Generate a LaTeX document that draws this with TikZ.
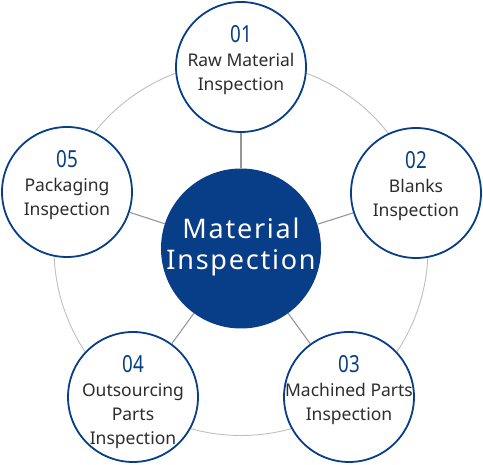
\documentclass[tikz,border=0pt]{standalone}
\usepackage{fontspec}
\setmainfont{Noto Sans}
\newfontfamily\numfont[FakeStretch=0.8]{Noto Sans}
\newfontfamily\hubfont[LetterSpace=6.5]{Noto Sans}
\definecolor{navy}{RGB}{8,62,135}
\definecolor{txtgray}{RGB}{45,45,45}
\definecolor{ringgray}{RGB}{190,190,190}
\definecolor{spokegray}{RGB}{150,150,150}
\newcommand{\numtxt}[1]{{\numfont\fontsize{23.5}{24}\selectfont\color{navy}#1}}
\begin{document}
\begin{tikzpicture}[x=1pt,y=-1pt,
  ring/.style={draw=ringgray, line width=0.9pt},
  spoke/.style={draw=spokegray, line width=1.1pt},
  hub/.style={circle, fill=navy, draw=none, minimum size=160pt, inner sep=0pt},
  outer/.style={circle, fill=white, draw=navy, line width=1.8pt, minimum size=130pt, inner sep=0pt},
  lbl/.style={anchor=base, inner sep=0pt, text=txtgray, font=\fontsize{17.5}{24}\selectfont},
  hubtxt/.style={anchor=base, inner sep=0pt, text=white, font=\hubfont\fontsize{27}{31}\selectfont}
]
\useasboundingbox (0,0) rectangle (483,465);
\coordinate (o) at (241,248.5);
\coordinate (p1) at (241,67);
\coordinate (p2) at (416,193);
\coordinate (p3) at (349,397);
\coordinate (p4) at (133,397);
\coordinate (p5) at (67,192);
\draw[ring] (o) circle[radius=187];
\node[hub] (c) at (o) {};
\node[outer] (n1) at (p1) {};
\node[outer] (n2) at (p2) {};
\node[outer] (n3) at (p3) {};
\node[outer] (n4) at (p4) {};
\node[outer] (n5) at (p5) {};
\foreach \i in {1,...,5} { \draw[spoke] (c) -- (n\i); }
\node[hubtxt] (ct) at ([yshift=9.5pt]o) {\begin{tabular}[t]{@{}c@{}}Material\\Inspection\end{tabular}};
\node[lbl] (t1) at ([yshift=24pt]p1) {\begin{tabular}[t]{@{}c@{}}\numtxt{01}\\Raw Material\\Inspection\end{tabular}};
\node[lbl] (t2) at ([yshift=24pt]p2) {\begin{tabular}[t]{@{}c@{}}\numtxt{02}\\Blanks\\Inspection\end{tabular}};
\node[lbl] (t3) at ([yshift=24pt]p3) {\begin{tabular}[t]{@{}c@{}}\numtxt{03}\\Machined Parts\\Inspection\end{tabular}};
\node[lbl] (t4) at ([yshift=24pt]p4) {\begin{tabular}[t]{@{}c@{}}\numtxt{04}\\Outsourcing\\Parts\\Inspection\end{tabular}};
\node[lbl] (t5) at ([yshift=24pt]p5) {\begin{tabular}[t]{@{}c@{}}\numtxt{05}\\Packaging\\Inspection\end{tabular}};
\end{tikzpicture}
\end{document}
